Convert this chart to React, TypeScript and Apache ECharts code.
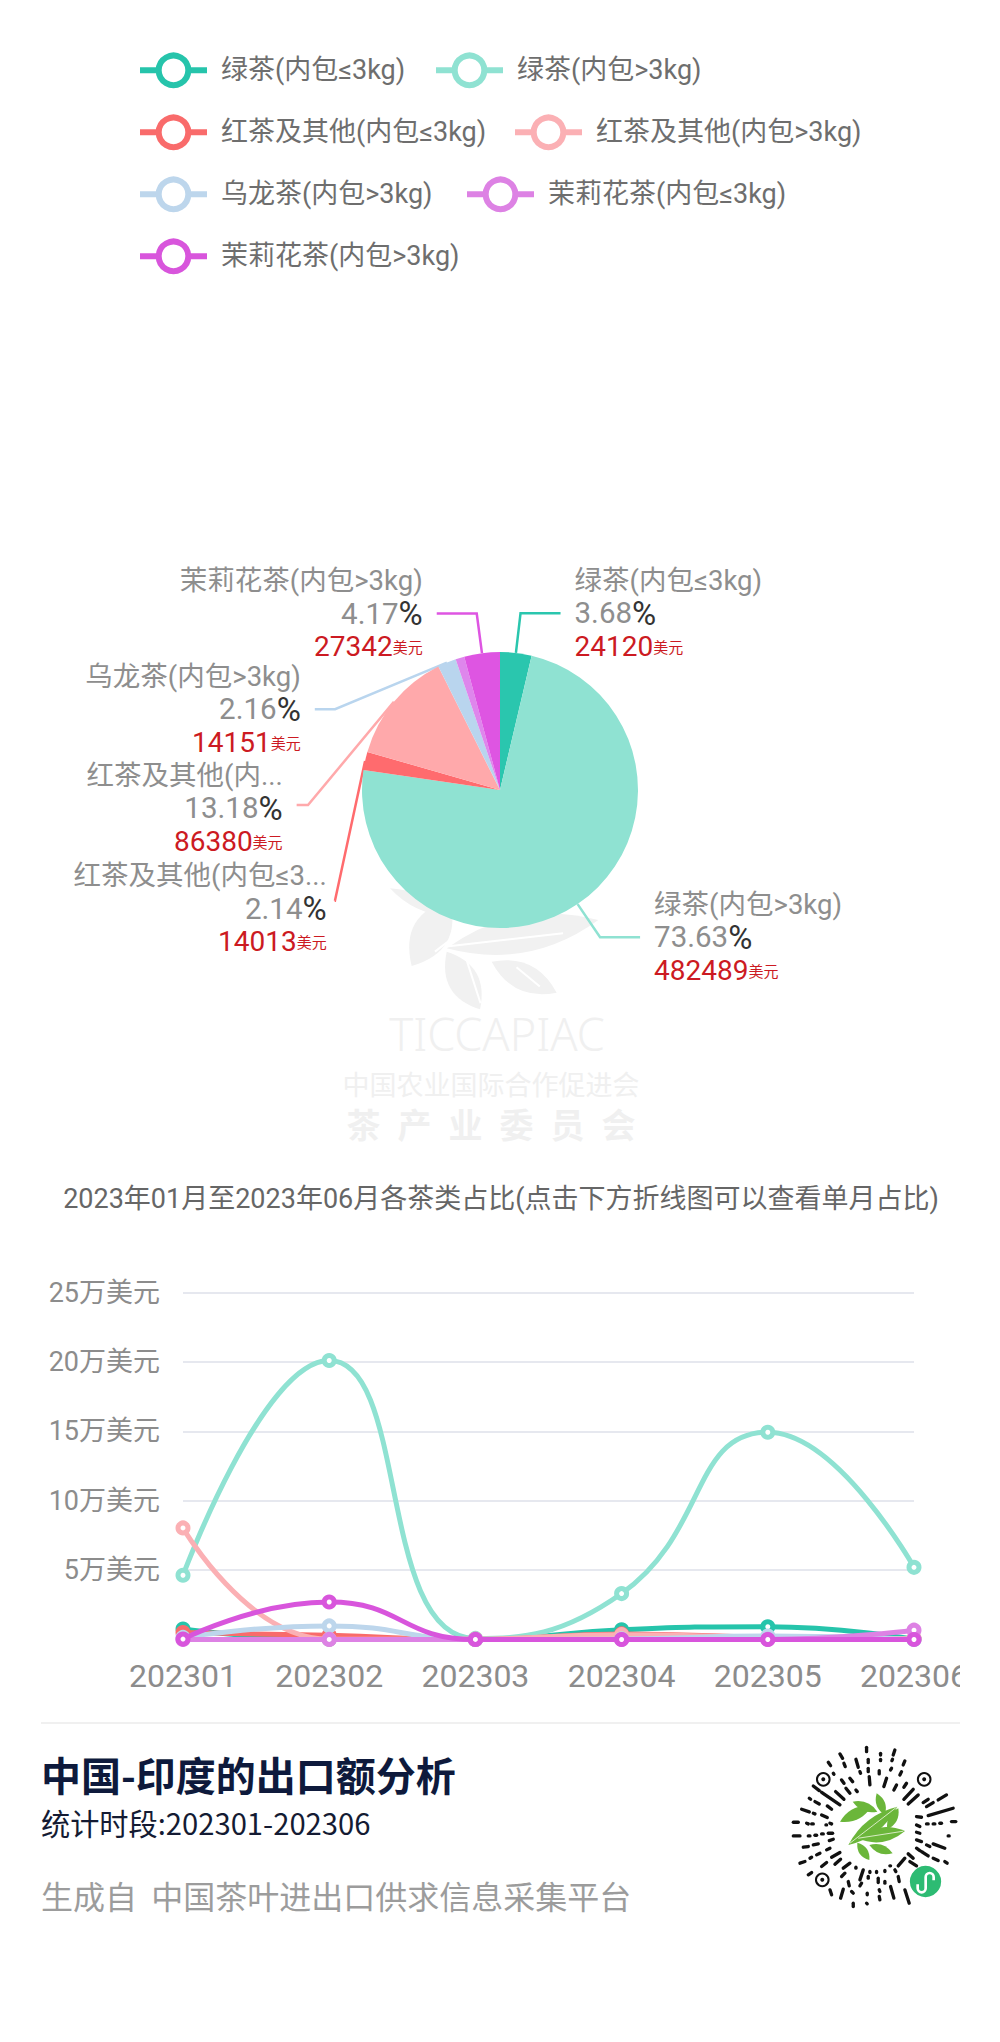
import React, { useEffect, useRef } from "react";
import * as echarts from "echarts";

const FONT = "Roboto, 'Noto Sans CJK SC', sans-serif";
const CJK = "'Noto Sans CJK SC', sans-serif";

const seriesNames = ["绿茶(内包≤3kg)", "绿茶(内包>3kg)", "红茶及其他(内包≤3kg)", "红茶及其他(内包>3kg)", "乌龙茶(内包>3kg)", "茉莉花茶(内包≤3kg)", "茉莉花茶(内包>3kg)"];
const seriesColors = ["#26C4AB", "#8FE2D2", "#F96B6B", "#FBB0B4", "#BDD6EC", "#DD82E4", "#D855DC"];
const pieColors = ["#2AC6AE", "#8FE2D2", "#FF6B6E", "#FFA9AB", "#B9D5EE", "#DE86EC", "#DE55E2"];
const pieValues = [24120, 482489, 14013, 86380, 14151, 6794, 27342];
const pieLabelNames = ["绿茶(内包≤3kg)", "绿茶(内包>3kg)", "红茶及其他(内包≤3...", "红茶及其他(内...", "乌龙茶(内包>3kg)", "", "茉莉花茶(内包>3kg)"];

const months = ["202301", "202302", "202303", "202304", "202305", "202306"];
const green1 = [7500, 200, 0, 7000, 9200, 220];
const green2 = [46300, 201000, 789, 33100, 149300, 52000];
const red1 = [5000, 3000, 0, 4000, 1500, 513];
const red2 = [80400, 200, 300, 3500, 1500, 480];
const oolong = [1500, 9800, 0, 400, 2451, 0];
const jasmine1 = [0, 50, 0, 0, 44, 6700];
const jasmine2 = [300, 27000, 42, 0, 0, 0];
const lineValues = [green1, green2, red1, red2, oolong, jasmine1, jasmine2];

const legendItems = [
  { left: 137, top: 52.5 },
  { left: 433, top: 52.5 },
  { left: 137, top: 114.5 },
  { left: 512, top: 114.5 },
  { left: 137, top: 176.5 },
  { left: 464, top: 176.5 },
  { left: 137, top: 238.5 },
];

const chartTitle = "2023年01月至2023年06月各茶类占比(点击下方折线图可以查看单月占比)";
const footerTitle = "中国-印度的出口额分析";
const footerPeriod = "统计时段:202301-202306";
const footerSource = "生成自  中国茶叶进出口供求信息采集平台";

// Decorative artwork (QR code and watermark), in 3x crop units
const qrTicks = [
  [290,52,290,65],[332,70,332,75],[332,88,332,92],[375,60,370,75],[368,88,366,92],[210,72,218,85],[222,100,226,110],[175,97,182,107],[258,88,265,112],[295,88,295,98],[295,115,295,125],[405,93,400,105],[328,122,328,132],[365,115,362,120],[395,125,390,135],[240,145,248,155],[270,125,272,130],[298,140,300,165],[350,145,342,170],[380,165,372,180],[410,160,402,172],[215,150,222,160],[190,130,192,133],[130,168,148,182],[155,187,210,225],[197,185,222,208],[228,175,240,190],[258,180,262,185],[430,178,402,208],[445,195,415,222],[475,208,460,218],[530,195,505,210],[490,218,470,230],[550,235,475,257],[118,205,122,208],[135,215,148,222],[172,228,185,238],[95,238,118,246],[130,250,135,252],[155,255,172,263],[70,277,85,277],[110,280,115,282],[125,282,130,282],[168,285,170,285],[180,280,185,282],[440,260,455,262],[470,282,475,282],[490,282,495,282],[510,280,515,280],[545,275,558,275],[440,285,450,290],[70,318,90,318],[115,318,120,318],[135,316,140,316],[155,312,160,312],[175,310,188,310],[535,318,538,318],[440,307,450,310],[440,330,455,335],[470,345,480,350],[490,342,525,355],[178,332,190,328],[100,352,115,350],[130,345,145,342],[170,360,180,355],[440,355,450,362],[90,400,105,395],[120,385,125,382],[140,375,150,370],[185,382,210,368],[155,410,170,398],[195,403,212,388],[220,415,240,400],[115,435,125,428],[455,365,475,378],[490,385,505,392],[525,395,532,400],[415,372,430,385],[385,408,405,385],[420,395,440,408],[258,412,258,415],[280,420,270,450],[300,425,300,428],[320,425,320,428],[345,422,345,425],[375,420,378,425],[360,408,362,408],[215,440,225,430],[235,455,238,468],[180,480,185,495],[220,478,212,505],[245,485,250,490],[250,520,250,530],[295,440,295,445],[325,445,325,458],[345,455,345,460],[362,470,372,505],[405,480,418,520],[328,480,330,485],[328,500,330,510],[292,490,292,495],[290,520,292,522],[275,460,270,468],[385,440,388,455],
];
const qrFinders = [[160,148],[463,148],[157,450]];
const qrLeaves = [
  [210,275,305,228,34],[235,345,382,230,42],[262,325,405,303,44],[248,215,322,245,26],[320,190,345,255,26],[385,235,352,298,26],[262,338,298,390,26],[298,345,368,370,26],
];
const watermarkLeaves = [
  [185,258,300,60,110],[290,205,745,120,110],[120,25,300,110,40],[390,388,290,215,90],[620,338,425,245,80],
];
const watermarkSlits = [
  [255,215,340,150],[290,200,640,160],[350,240,392,370],[500,262,570,320],
];

echarts.graphic.registerShape("leaf", echarts.graphic.extendPath("M0 0Q50 -30 100 0Q50 30 0 0Z", {}));
echarts.graphic.registerShape("wxlink", echarts.graphic.extendPath("M-24 8V20A12 12 0 0 0 0 20V-14A12 12 0 0 1 24 -14V-4", {}));

const leafEl = (l: number[], fill: string) => {
  const dx = l[2] - l[0], dy = l[3] - l[1];
  return {
    type: "leaf", x: l[0], y: l[1], rotation: -Math.atan2(dy, dx),
    scaleX: Math.hypot(dx, dy) / 100, scaleY: l[4] / 30, style: { fill },
  };
};

export default function App() {
  const ref = useRef<HTMLDivElement>(null);
  useEffect(() => {
    document.body.style.margin = "0";
    document.body.style.background = "#fff";
    const chart = echarts.init(ref.current!, null, { renderer: "svg" });
    chart.setOption({
      animation: false,
      backgroundColor: "#fff",
      legend: legendItems.map((r, i) => ({
        left: r.left, top: r.top, orient: "horizontal", itemWidth: 67, itemHeight: 37,
        padding: 0,
        data: [seriesNames[i]],
        lineStyle: { width: 6 },
        itemStyle: { borderWidth: 6 },
        textStyle: { fontSize: 27, color: "#6e6e6e", fontFamily: FONT, padding: [0, 0, 0, 9] },
      })),
      grid: { left: 183, top: 1292.5, width: 731, height: 347, containLabel: false, outerBoundsMode: "none" },
      xAxis: {
        type: "category", boundaryGap: false, data: months,
        axisLine: { show: false }, axisTick: { show: false },
        axisLabel: { fontSize: 32, color: "#8c8c8c", margin: 20, fontFamily: FONT, hideOverlap: false, interval: 0 },
      },
      yAxis: {
        type: "value", min: 0, max: 250000, interval: 50000,
        axisLine: { show: false }, axisTick: { show: false },
        splitLine: { lineStyle: { color: "#E6E8EF", width: 2 } },
        axisLabel: {
          fontSize: 27, color: "#8c8c8c", margin: 23, fontFamily: FONT,
          formatter: (v: number) => (v === 0 ? "" : `${v / 10000}万美元`),
        },
      },
      series: [
        {
          type: "pie", center: [500, 790], radius: [0, 138], startAngle: 90, clockwise: true,
          percentPrecision: 2, avoidLabelOverlap: true, z: 3,
          color: pieColors,
          label: {
            show: true, position: "outside", distanceToLabelLine: 14, fontFamily: FONT,
            formatter: (p: any) =>
              `{n|${pieLabelNames[p.dataIndex]}}\n{p|${p.percent.toFixed(2)}}{u|%}\n{v|${p.value}}{y|美元}`,
            rich: {
              n: { fontSize: 27.5, color: "#8e8e8e", lineHeight: 33, fontFamily: FONT },
              p: { fontSize: 29.5, color: "#8e8e8e", lineHeight: 33, fontFamily: FONT },
              u: { fontSize: 33, color: "#333", lineHeight: 33, fontFamily: FONT },
              v: { fontSize: 28, color: "#cc1a22", lineHeight: 33, fontFamily: FONT },
              y: { fontSize: 15, color: "#cc1a22", lineHeight: 33, fontFamily: CJK },
            },
          },
          labelLine: { show: true, length: 40, length2: 40, lineStyle: { width: 2.5 }, minTurnAngle: 0 },
          labelLayout: (p: any) => (p.dataIndex === 2 ? { dx: 6, dy: 8 } : p.dataIndex === 3 ? { dy: 3 } : {}),
          data: pieValues.map((v, i) => ({
            name: seriesNames[i], value: v,
            ...(i === 5 ? { label: { show: false }, labelLine: { show: false } } : {}),
          })),
        },
        ...seriesNames.map((name, i) => ({
          type: "line", name, data: lineValues[i], smooth: true,
          symbol: "circle", symbolSize: 10, showSymbol: true, z: 4 + i,
          lineStyle: { width: 5, color: seriesColors[i] },
          itemStyle: { color: "#fff", borderColor: seriesColors[i], borderWidth: 5 },
        })),
      ],
      graphic: [
        {
          type: "group", x: 350, y: 880, scaleX: 1 / 3, scaleY: 1 / 3, silent: true, z: -1,
          children: [
            ...watermarkLeaves.map((l) => ({ ...leafEl(l, "#F1F1F1"), z: -1 })),
            ...watermarkSlits.map((s) => ({
              type: "line", z: -1, shape: { x1: s[0], y1: s[1], x2: s[2], y2: s[3] },
              style: { stroke: "#fff", lineWidth: 6 },
            })),
          ],
        },
        { type: "text", x: 497, y: 1033, z: -1, style: { text: "TICCAPIAC", fontSize: 45, fill: "#F0F0F0", fontFamily: "'Noto Sans', sans-serif", fontWeight: 300, align: "center", verticalAlign: "middle" } },
        { type: "text", x: 491, y: 1083, z: -1, style: { text: "中国农业国际合作促进会", fontSize: 27, fill: "#F0F0F0", fontFamily: CJK, align: "center", verticalAlign: "middle" } },
        { type: "text", x: 491, y: 1123, z: -1, style: { text: "茶\u2002产\u2002业\u2002委\u2002员\u2002会", fontSize: 34, fontWeight: "bold", fill: "#F0F0F0", fontFamily: CJK, align: "center", verticalAlign: "middle" } },
        { type: "text", x: 501, y: 1199, style: { text: chartTitle, fontSize: 27, fill: "#666", fontFamily: FONT, align: "center", verticalAlign: "middle" } },
        { type: "text", x: 41, y: 1774, style: { text: footerTitle, fontSize: 40, fontWeight: "bold", fill: "#0E1A3C", fontFamily: CJK, verticalAlign: "middle" } },
        { type: "text", x: 41, y: 1822, style: { text: footerPeriod, fontSize: 29.2, fill: "#141B33", fontFamily: CJK, verticalAlign: "middle" } },
        { type: "text", x: 41, y: 1895, style: { text: footerSource, fontSize: 32, fill: "#9c9c9c", fontFamily: CJK, verticalAlign: "middle" } },
        {
          type: "rect", shape: { x: 41, y: 1722, width: 919, height: 2 }, style: { fill: "#F0F0F0" },
        },
        {
          type: "group", x: 770, y: 1730, scaleX: 1 / 3, scaleY: 1 / 3, silent: true,
          children: [
            ...qrTicks.map((t) => ({
              type: "line", shape: { x1: t[0], y1: t[1], x2: t[2], y2: t[3] },
              style: { stroke: "#111", lineWidth: 10, lineCap: "round" },
            })),
            ...qrFinders.flatMap((f) => [
              { type: "circle", shape: { cx: f[0], cy: f[1], r: 19 }, style: { fill: "none", stroke: "#111", lineWidth: 6 } },
              { type: "circle", shape: { cx: f[0], cy: f[1], r: 6 }, style: { fill: "#111" } },
            ]),
            ...qrLeaves.map((l) => leafEl(l, "#6BB63A")),
            { type: "line", shape: { x1: 240, y1: 340, x2: 380, y2: 232 }, style: { stroke: "#D7EBC3", lineWidth: 3 } },
            { type: "line", shape: { x1: 265, y1: 325, x2: 400, y2: 304 }, style: { stroke: "#D7EBC3", lineWidth: 3 } },
            { type: "circle", shape: { cx: 467, cy: 455, r: 47 }, style: { fill: "#2DBB73" } },
            { type: "wxlink", x: 467, y: 455, style: { fill: "none", stroke: "#fff", lineWidth: 8 } },
          ],
        },
      ],
    });
    return () => chart.dispose();
  }, []);
  return (
    <div style={{ position: "absolute", left: 0, top: 0, width: 1000, height: 2042, background: "#fff" }}>
      <div ref={ref} style={{ position: "absolute", left: 0, top: 0, width: 960, height: 2042 }} />
    </div>
  );
}
